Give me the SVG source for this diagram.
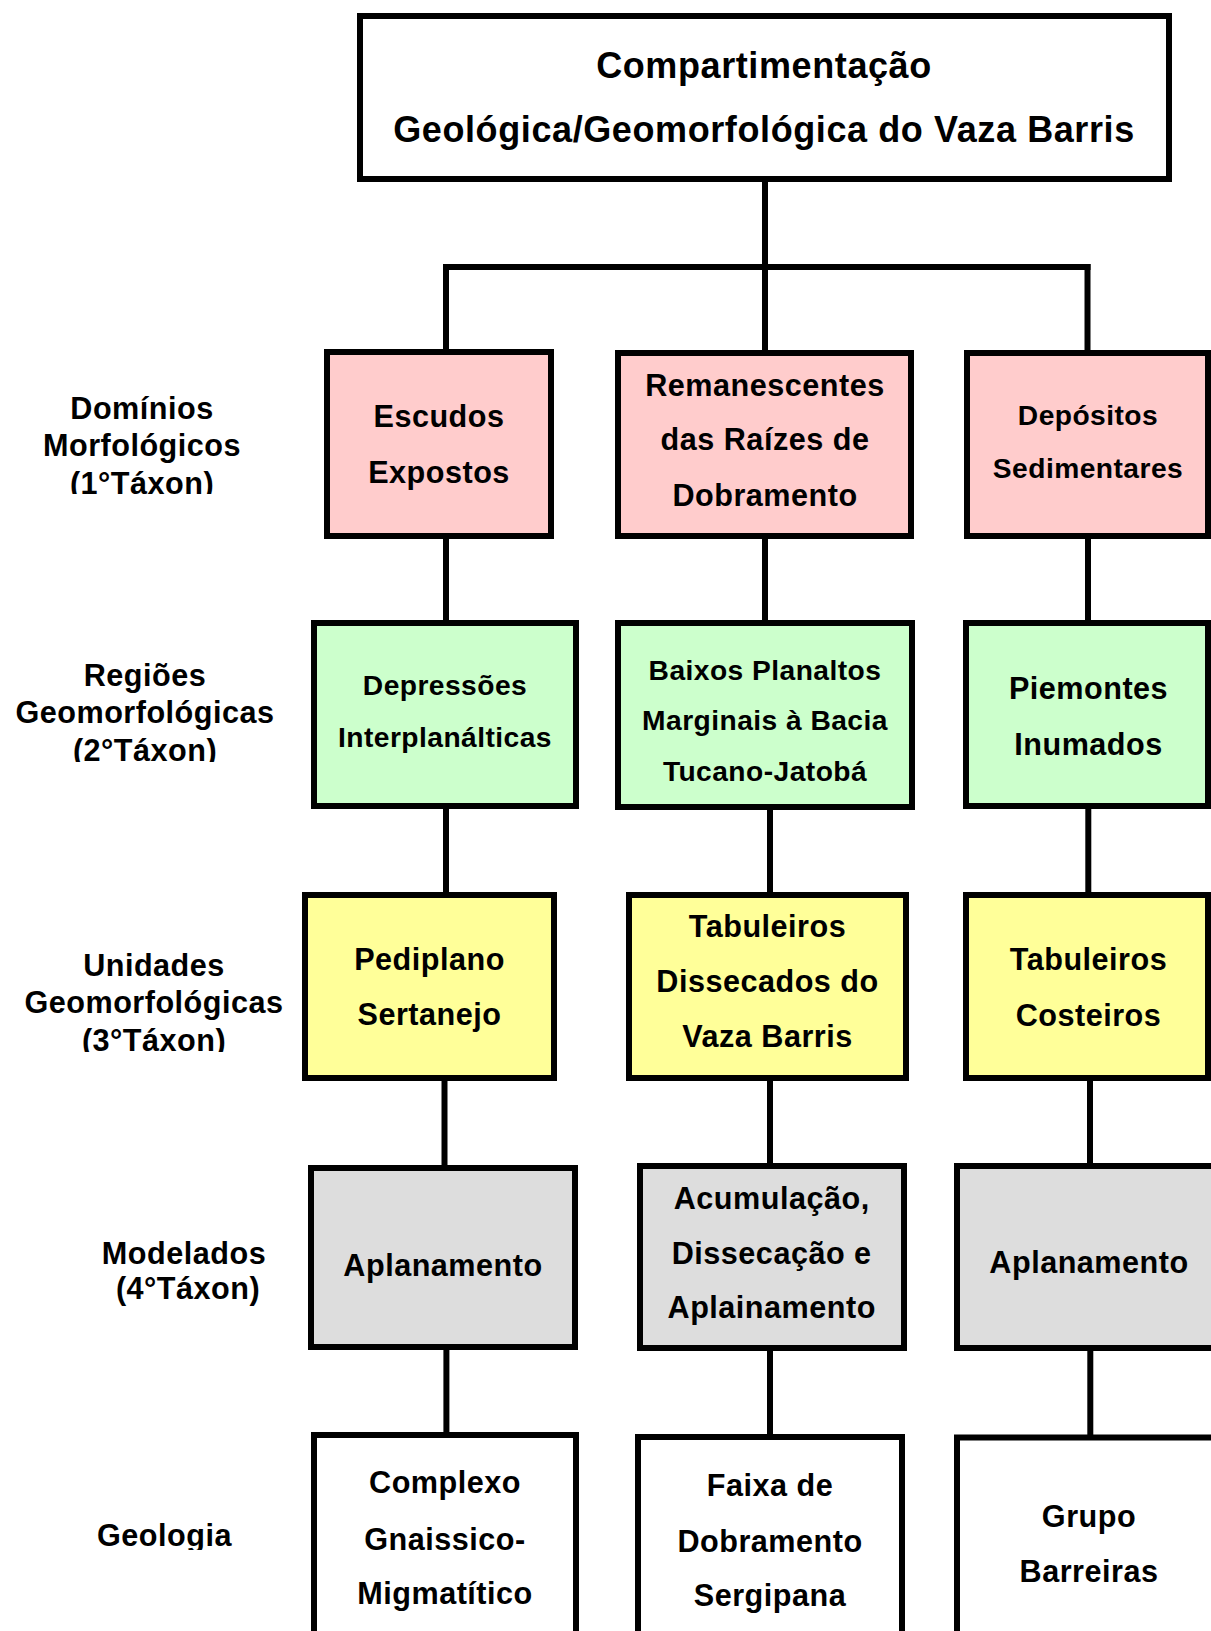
<svg xmlns="http://www.w3.org/2000/svg" width="1211" height="1631" viewBox="0 0 1211 1631">
<style>
.box{stroke:#000;stroke-width:6}
.pink{fill:#FFCCCC}.green{fill:#CCFFCC}.yellow{fill:#FFFF99}.gray{fill:#DDDDDD}.white{fill:#FFFFFF}
text{font-family:"Liberation Sans",Arial,sans-serif;font-weight:bold;fill:#000;text-anchor:middle;font-size:30.6px;letter-spacing:0.5px}
.title{font-size:36px;letter-spacing:0.6px}
.sm{font-size:28.2px;letter-spacing:0.45px}
#connectors line{stroke:#000;stroke-width:6;fill:none}
</style>
<defs>
<clipPath id="c1"><rect x="0" y="370" width="300" height="124"/></clipPath>
<clipPath id="c2"><rect x="0" y="640" width="300" height="122"/></clipPath>
<clipPath id="c3"><rect x="0" y="930" width="300" height="122"/></clipPath>
<clipPath id="c5"><rect x="0" y="1500" width="300" height="50"/></clipPath>
</defs>
<rect width="1211" height="1631" fill="#fff"/>
<g id="connectors">
<line x1="765" y1="179" x2="765" y2="270"/>
<line x1="443" y1="267" x2="1090.5" y2="267"/>
<line x1="446" y1="264" x2="446" y2="352"/>
<line x1="765" y1="267" x2="765" y2="353"/>
<line x1="1087.5" y1="264" x2="1087.5" y2="353"/>
<line x1="446" y1="536" x2="446" y2="623"/>
<line x1="765" y1="536" x2="765" y2="623"/>
<line x1="1088" y1="536" x2="1088" y2="623"/>
<line x1="446" y1="806" x2="446" y2="895"/>
<line x1="770" y1="807" x2="770" y2="895"/>
<line x1="1088.3" y1="806" x2="1088.3" y2="895"/>
<line x1="444.5" y1="1078" x2="444.5" y2="1168"/>
<line x1="770" y1="1078" x2="770" y2="1166"/>
<line x1="1090" y1="1078" x2="1090" y2="1166"/>
<line x1="446.4" y1="1347" x2="446.4" y2="1435"/>
<line x1="770" y1="1348" x2="770" y2="1437"/>
<line x1="1090.3" y1="1348" x2="1090.3" y2="1437.5"/>
</g>
<g id="n-top">
<rect class="box white" x="360" y="16" width="809" height="163"/>
<text class="title" x="764" y="78">Compartimentação</text>
<text class="title" x="764" y="142">Geológica/Geomorfológica do Vaza Barris</text>
</g>
<g id="n-escudos">
<rect class="box pink" x="327" y="352" width="224" height="184"/>
<text x="439" y="427">Escudos</text>
<text x="439" y="483">Expostos</text>
</g>
<g id="n-remanescentes">
<rect class="box pink" x="618" y="353" width="293" height="183"/>
<text x="765" y="396">Remanescentes</text>
<text x="765" y="450">das Raízes de</text>
<text x="765" y="506">Dobramento</text>
</g>
<g id="n-depositos">
<rect class="box pink" x="967" y="353" width="241" height="183"/>
<text class="sm" x="1088" y="425">Depósitos</text>
<text class="sm" x="1088" y="478">Sedimentares</text>
</g>
<g id="n-depressoes">
<rect class="box green" x="314" y="623" width="262" height="183"/>
<text class="sm" x="445" y="695">Depressões</text>
<text class="sm" x="445" y="747">Interplanálticas</text>
</g>
<g id="n-baixos">
<rect class="box green" x="618" y="623" width="294" height="184"/>
<text class="sm" x="765" y="680">Baixos Planaltos</text>
<text class="sm" x="765" y="730">Marginais à Bacia</text>
<text class="sm" x="765" y="781">Tucano-Jatobá</text>
</g>
<g id="n-piemontes">
<rect class="box green" x="966" y="623" width="242" height="183"/>
<text x="1088.5" y="699">Piemontes</text>
<text x="1088.5" y="755">Inumados</text>
</g>
<g id="n-pediplano">
<rect class="box yellow" x="305" y="895" width="249" height="183"/>
<text x="429.5" y="970">Pediplano</text>
<text x="429.5" y="1025">Sertanejo</text>
</g>
<g id="n-tabdiss">
<rect class="box yellow" x="629" y="895" width="277" height="183"/>
<text x="767.5" y="937">Tabuleiros</text>
<text x="767.5" y="992">Dissecados do</text>
<text x="767.5" y="1047">Vaza Barris</text>
</g>
<g id="n-tabcost">
<rect class="box yellow" x="966" y="895" width="242" height="183"/>
<text x="1088.5" y="970">Tabuleiros</text>
<text x="1088.5" y="1026">Costeiros</text>
</g>
<g id="n-aplan1">
<rect class="box gray" x="311" y="1168" width="264" height="179"/>
<text x="443" y="1276">Aplanamento</text>
</g>
<g id="n-acumulacao">
<rect class="box gray" x="640" y="1166" width="264" height="182"/>
<text x="771.7" y="1209">Acumulação,</text>
<text x="771.7" y="1264">Dissecação e</text>
<text x="771.7" y="1318">Aplainamento</text>
</g>
<g id="n-aplan2">
<rect class="box gray" x="957" y="1166" width="264" height="182"/>
<text x="1089" y="1273">Aplanamento</text>
</g>
<g id="n-complexo">
<rect class="box white" x="314" y="1435" width="262" height="210"/>
<text x="445" y="1492.5">Complexo</text>
<text x="445" y="1550">Gnaissico-</text>
<text x="445" y="1604">Migmatítico</text>
</g>
<g id="n-faixa">
<rect class="box white" x="638" y="1437" width="264" height="210"/>
<text x="770" y="1495.5">Faixa de</text>
<text x="770" y="1552">Dobramento</text>
<text x="770" y="1606">Sergipana</text>
</g>
<g id="n-grupo">
<rect class="box white" x="957" y="1437.5" width="264" height="210"/>
<text x="1089" y="1527">Grupo</text>
<text x="1089" y="1582">Barreiras</text>
</g>
<g id="labels">
<g id="l-1" clip-path="url(#c1)">
<text x="142" y="419">Domínios</text>
<text x="142" y="456">Morfológicos</text>
<text x="142" y="494">(1°Táxon)</text>
</g>
<g id="l-2" clip-path="url(#c2)">
<text x="145" y="686">Regiões</text>
<text x="145" y="723">Geomorfológicas</text>
<text x="145" y="761">(2°Táxon)</text>
</g>
<g id="l-3" clip-path="url(#c3)">
<text x="154" y="976">Unidades</text>
<text x="154" y="1013">Geomorfológicas</text>
<text x="154" y="1051">(3°Táxon)</text>
</g>
<g id="l-4">
<text x="184" y="1264">Modelados</text>
<text x="188" y="1299">(4°Táxon)</text>
</g>
<g id="l-5" clip-path="url(#c5)">
<text x="164.5" y="1546">Geologia</text>
</g>
</g>
</svg>
